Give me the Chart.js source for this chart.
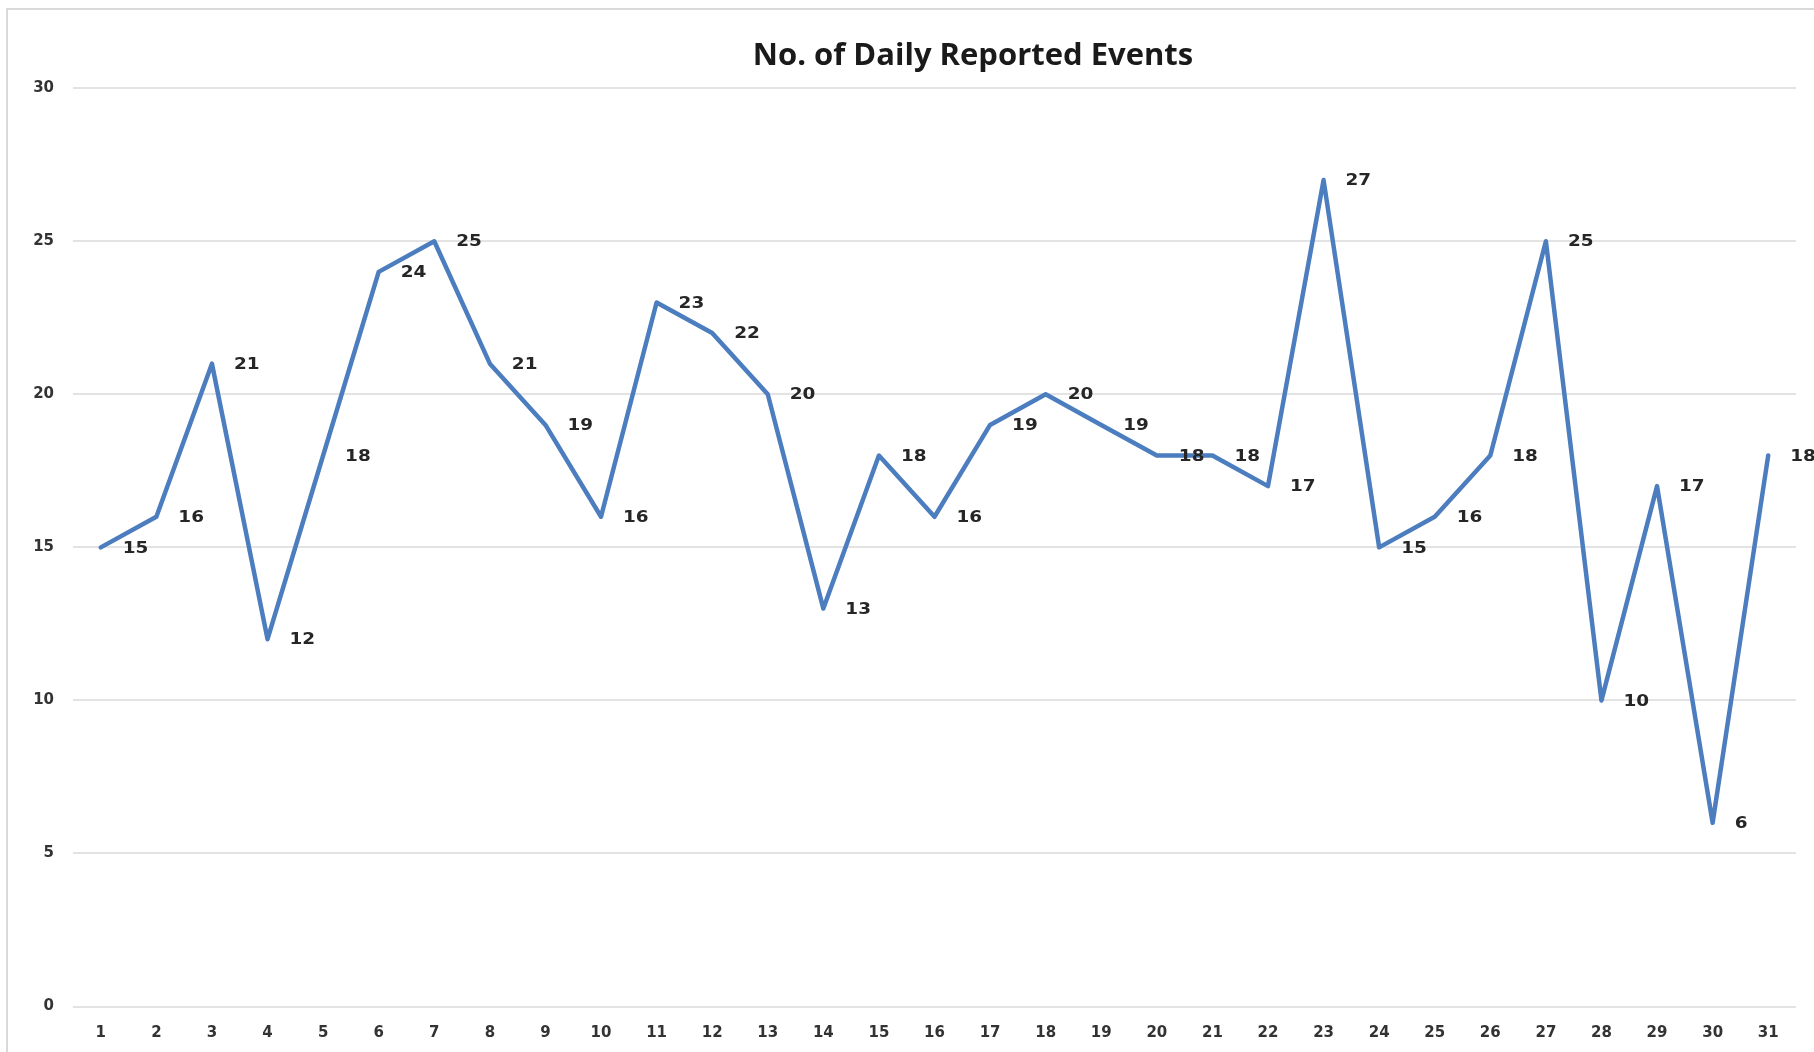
<!DOCTYPE html>
<html>
<head>
<meta charset="utf-8">
<title>No. of Daily Reported Events</title>
<script src="https://cdn.jsdelivr.net/npm/chart.js@4"></script>
<style>
  html, body { margin: 0; padding: 0; background: #fff; overflow: hidden; }
  #frame { position: absolute; left: 6px; top: 8px; border: 2px solid #d9d9d9; width: 1930px; height: 1100px; }
  canvas { display: block; }
</style>
</head>
<body>
<div id="frame"><canvas id="eventsChart" width="1930" height="1100"></canvas></div>
<script>
const days = ['1','2','3','4','5','6','7','8','9','10','11','12','13','14','15','16','17','18','19','20','21','22','23','24','25','26','27','28','29','30','31'];
const events = [15,16,21,12,18,24,25,21,19,16,23,22,20,13,18,16,19,20,19,18,18,17,27,15,16,18,25,10,17,6,18];
const yMin = 0, yMax = 30, yStep = 5;

// value labels drawn to the right of each point (slightly widened like the original)
const valueLabels = {
  id: 'valueLabels',
  afterDatasetsDraw(chart){
    const ctx = chart.ctx;
    const meta = chart.getDatasetMeta(0);
    ctx.save();
    ctx.font = 'bold 16px "DejaVu Sans"';
    ctx.fillStyle = '#262626';
    ctx.textAlign = 'left';
    ctx.textBaseline = 'middle';
    meta.data.forEach((pt, i) => {
      ctx.save();
      ctx.translate(pt.x + 22, pt.y + 1);
      ctx.scale(1.15, 1);
      ctx.fillText(String(events[i]), 0, 0);
      ctx.restore();
    });
    ctx.restore();
  }
};

const tickFont = {family: '"DejaVu Sans"', size: 15, weight: 'bold'};

new Chart(document.getElementById('eventsChart'), {
  type: 'line',
  data: {
    labels: days,
    datasets: [{
      label: 'Events',
      data: events,
      borderColor: '#4b7dbf',
      borderWidth: 4.5,
      borderJoinStyle: 'round',
      borderCapStyle: 'round',
      pointRadius: 0,
      tension: 0,
      fill: false
    }]
  },
  options: {
    responsive: false,
    devicePixelRatio: 1,
    animation: false,
    layout: {padding: 0},
    plugins: {
      legend: {display: false},
      tooltip: {enabled: false},
      title: {
        display: true,
        text: 'No. of Daily Reported Events',
        color: '#1a1a1a',
        font: {family: '"Open Sans"', size: 31, weight: 'bold'},
        padding: {top: 27.5, bottom: 13.5}
      }
    },
    scales: {
      x: {
        offset: true,
        grid: {display: false, drawTicks: false},
        border: {display: false},
        ticks: {color: '#333', font: tickFont, padding: 18, maxRotation: 0, autoSkip: false},
        afterFit(scale){ scale.height = 103.5; }
      },
      y: {
        min: yMin, max: yMax,
        grid: {color: '#e3e3e3', lineWidth: 2, drawTicks: false},
        border: {display: false},
        ticks: {stepSize: yStep, color: '#333', font: tickFont, padding: 19},
        afterFit(scale){ scale.width = 65; }
      },
      yRight: {
        position: 'right',
        grid: {display: false, drawTicks: false},
        border: {display: false},
        ticks: {display: false},
        afterFit(scale){ scale.width = 142; }
      }
    }
  },
  plugins: [valueLabels]
});
</script>
</body>
</html>
